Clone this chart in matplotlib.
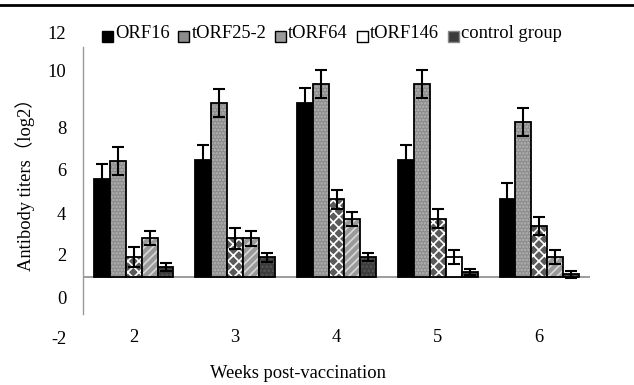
import numpy as np
import matplotlib
matplotlib.use('Agg')
import matplotlib.pyplot as plt
from matplotlib.patches import Patch, Rectangle
from matplotlib.lines import Line2D
from matplotlib.legend_handler import HandlerPatch

# 데이터 (log2 titers, 그림에서 읽은 값)
weeks = ['2', '3', '4', '5', '6']
series = ['ORF16', 'tORF25-2', 'tORF64', 'tORF146', 'control group']
orf16 = [5.57, 6.48, 9.15, 6.48, 4.62]
orf16_err = [0.72, 0.70, 0.74, 0.70, 0.76]
torf25 = [6.44, 9.15, 10.06, 10.06, 8.27]
torf25_err = [0.66, 0.66, 0.66, 0.66, 0.66]
torf64 = [1.89, 2.78, 4.62, 3.71, 3.36]
torf64_err = [0.47, 0.50, 0.44, 0.44, 0.44]
torf146 = [2.80, 2.78, 3.71, 1.89, 1.89]
torf146_err = [0.34, 0.36, 0.33, 0.34, 0.34]
control = [1.44, 1.89, 1.89, 1.19, 1.08]
control_err = [0.19, 0.21, 0.19, 0.13, 0.15]

ytick_labels = ['-2', '0', '2', '4', '6', '8', '10', '12']
ytick_pos = [-1.89, 0, 2, 3.97, 6.04, 8, 10.72, 12.5]  # 원본의 눈금 글자 위치

BASE = 0.97  # 가로축이 지나가는 위치
W = 0.157

plt.rcParams['font.family'] = ['Liberation Serif', 'Noto Sans CJK SC']
plt.rcParams['hatch.linewidth'] = 1.2
FS = 13.3

fig = plt.figure(figsize=(6.34, 3.85), dpi=100)
ax = fig.add_axes([83 / 634, 1 - 348.2 / 385, 507 / 634, 326.5 / 385])
ax.set_xlim(-0.5, 4.5)
ax.set_ylim(-2.4, 13.0)

# 스타일: (채우기색, 해치, 해치색)
styles = [
    ('black', None, 'black'),
    ('#8c8c8c', '.....', '#b5b5b5'),
    ('#5a5a5a', 'xxx', 'white'),
    ('#9a9a9a', '////', '#d8d8d8'),
    ('#3c3c3c', '....', '#555555'),
]
values = [orf16, torf25, torf64, torf146, control]
errors = [orf16_err, torf25_err, torf64_err, torf146_err, control_err]

x = np.arange(len(weeks))
for k in range(5):
    xs = x + (k - 2) * W
    h = np.array(values[k]) - BASE
    fc, hatch, hc = styles[k]
    fills = ax.bar(xs, h, W, bottom=BASE, color=fc, hatch=hatch, edgecolor=hc, linewidth=0)
    if k == 3:
        # 5주차 tORF146 막대만 흰색
        fills[3].set_facecolor('white')
        fills[3].set_hatch(None)
    ax.bar(xs, h, W, bottom=BASE, fill=False, edgecolor='black', linewidth=1.3)
    ax.errorbar(xs, values[k], yerr=errors[k], fmt='none', ecolor='black',
                elinewidth=1.5, capsize=4.5, capthick=1.5)

ax.axhline(BASE, color='#8c8c8c', linewidth=1.2, zorder=0)

for s in ['top', 'right']:
    ax.spines[s].set_visible(False)
ax.spines['left'].set_color('#999999')
ax.spines['left'].set_linewidth(1.0)
ax.spines['left'].set_bounds(-0.79, 11.8)
ax.spines['bottom'].set_color('none')
ax.spines['bottom'].set_position(('data', -1.2))

ax.set_yticks(ytick_pos)
ax.set_yticklabels(ytick_labels, fontsize=FS)
ax.set_xticks(x)
ax.set_xticklabels(weeks, fontsize=FS)
ax.tick_params(axis='y', length=0, pad=12)
ax.tick_params(axis='x', length=0, pad=4.8)

fig.text(298 / 634, 1 - 373 / 385, 'Weeks post-vaccination', fontsize=FS,
         ha='center', va='center')
fig.text(25 / 634, 1 - 180 / 385, 'Antibody titers（log2）', fontsize=FS,
         ha='center', va='center', rotation=90)


# 범례 네모를 글자보다 조금 아래로
def low_square(legend, orig_handle, xdescent, ydescent, width, height, fontsize):
    return Rectangle((-xdescent, -ydescent - 0.3 * fontsize), width, height)


handles = [
    Patch(facecolor='black', edgecolor='black'),
    Patch(facecolor='#8c8c8c', edgecolor='black'),
    Patch(facecolor='#9a9a9a', edgecolor='black'),
    Patch(facecolor='white', edgecolor='black'),
    Patch(facecolor='#3c3c3c', edgecolor='#888888'),
]
fig.legend(handles, series, loc='center left', bbox_to_anchor=(101.7 / 634, 1 - 33 / 385),
           ncol=5, frameon=False, fontsize=FS, handlelength=0.6, handleheight=0.55,
           handletextpad=0.12, columnspacing=0.47, borderpad=0, borderaxespad=0,
           handler_map={Patch: HandlerPatch(patch_func=low_square)})

fig.add_artist(Line2D([0, 1], [1 - 5 / 385, 1 - 5 / 385], color='black', linewidth=2,
                      transform=fig.transFigure))

fig.savefig('out.png', dpi=100)
